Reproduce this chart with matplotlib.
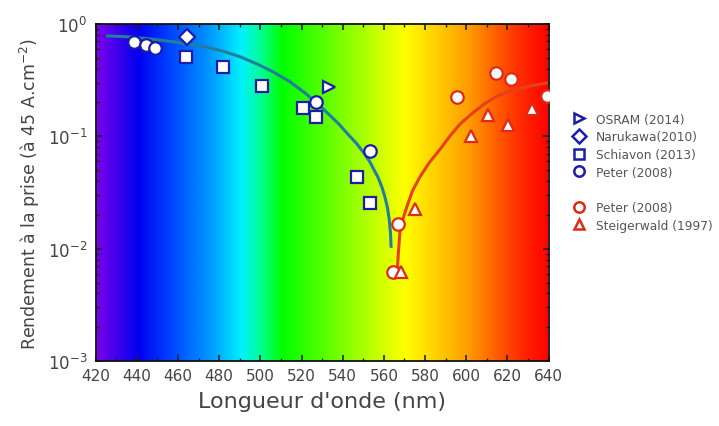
import numpy as np
import matplotlib
matplotlib.use("Agg")
import matplotlib.pyplot as plt
from matplotlib.colors import LinearSegmentedColormap
from matplotlib.lines import Line2D
from matplotlib.ticker import MultipleLocator, LogLocator, NullFormatter

# --- data ---
osram_x = [533.4]
osram_y = [0.275]

narukawa_x = [464.3]
narukawa_y = [0.77]

schiavon_x = [464.0, 481.8, 501.0, 520.7, 527.0, 547.0, 553.3]
schiavon_y = [0.51, 0.41, 0.28, 0.18, 0.149, 0.043, 0.0255]

peter_blue_x = [438.5, 444.3, 448.7, 527.0, 553.3]
peter_blue_y = [0.69, 0.65, 0.61, 0.20, 0.074]

peter_red_x = [564.5, 567.0, 595.7, 614.6, 621.5, 639.0]
peter_red_y = [0.0062, 0.0166, 0.224, 0.366, 0.324, 0.228]

steig_x = [568.4, 575.2, 602.5, 610.8, 620.5, 631.7]
steig_y = [0.0062, 0.0225, 0.10, 0.155, 0.126, 0.175]

# fit curves
fit_blue_x = [425.8, 436.0, 446.0, 458.0, 470.6, 482.0, 490.0, 498.3, 506.0, 514.4,
              522.0, 530.5, 538.0, 543.0, 547.0, 550.0, 553.0, 555.0, 557.0, 559.0,
              560.5, 561.7, 562.6, 563.2, 563.5]
fit_blue_y = [0.78, 0.765, 0.735, 0.69, 0.64, 0.57, 0.51, 0.44, 0.375, 0.305,
              0.24, 0.175, 0.129, 0.102, 0.085, 0.072, 0.060, 0.051, 0.0437, 0.0355,
              0.0288, 0.0234, 0.0182, 0.0138, 0.0105]

fit_red_x = [566.5, 567.0, 567.9, 569.5, 571.3, 574.0, 577.7, 582.0, 587.4, 592.0,
             597.1, 603.0, 609.0, 615.1, 622.0, 631.2, 640.0]
fit_red_y = [0.0063, 0.009, 0.015, 0.019, 0.024, 0.033, 0.044, 0.058, 0.077, 0.10,
             0.129, 0.16, 0.195, 0.228, 0.255, 0.28, 0.30]

# spectrum background
spec_wl = [420, 440, 455, 475, 490, 500, 510, 540, 570, 600, 625, 640]
spec_col = ['#7a00e8', '#0000f0', '#0040ff', '#0098ff', '#00f0ff', '#00ff90',
            '#00ff00', '#80ff00', '#ffff00', '#ffa000', '#ff3000', '#ff0000']

BLUE = '#1c1caa'
RED = '#e02a18'


def main():
    fig = plt.figure(figsize=(7.19, 4.27), dpi=100)
    ax = fig.add_axes([0.133, 0.152, 0.63, 0.79])

    pos = [(w - spec_wl[0]) / (spec_wl[-1] - spec_wl[0]) for w in spec_wl]
    cmap = LinearSegmentedColormap.from_list('spec', list(zip(pos, spec_col)))
    grad = np.linspace(0, 1, 512)[None, :]
    ax.imshow(grad, cmap=cmap, aspect='auto', extent=(420, 640, 0, 1),
              transform=ax.get_xaxis_transform(), zorder=0, interpolation='bilinear')

    ax.plot(fit_blue_x, fit_blue_y, color='#1f7f9e', lw=2.2, zorder=2,
            solid_joinstyle='round')
    ax.plot(fit_red_x, fit_red_y, color='#e8401a', lw=2.2, zorder=2,
            solid_joinstyle='round')

    mk = dict(markerfacecolor='white', markeredgewidth=1.6, linestyle='none', zorder=3)
    ax.plot(osram_x, osram_y, marker='>', ms=9, markeredgecolor=BLUE, **mk)
    ax.plot(narukawa_x, narukawa_y, marker='D', ms=8, markeredgecolor=BLUE, **mk)
    ax.plot(schiavon_x, schiavon_y, marker='s', ms=8, markeredgecolor=BLUE, **mk)
    ax.plot(peter_blue_x, peter_blue_y, marker='o', ms=9, markeredgecolor=BLUE, **mk)
    ax.plot(peter_red_x, peter_red_y, marker='o', ms=9, markeredgecolor=RED, **mk)
    ax.plot(steig_x, steig_y, marker='^', ms=9, markeredgecolor=RED, **mk)

    ax.set_yscale('log')
    ax.set_xlim(420, 640)
    ax.set_ylim(1e-3, 1)
    ax.xaxis.set_major_locator(MultipleLocator(20))
    ax.xaxis.set_minor_locator(MultipleLocator(10))
    ax.yaxis.set_major_locator(LogLocator(base=10))
    ax.yaxis.set_minor_locator(LogLocator(base=10, subs=np.arange(2, 10)))
    ax.yaxis.set_minor_formatter(NullFormatter())
    ax.tick_params(which='both', direction='in', top=True, right=True, colors='#222222')
    ax.tick_params(which='major', length=4, width=1.2)
    ax.tick_params(which='minor', length=2.5, width=1)
    ax.tick_params(axis='x', labelsize=11, labelcolor='#444444', pad=5)
    ax.tick_params(axis='y', labelsize=12, labelcolor='#444444', pad=6)
    for s in ax.spines.values():
        s.set_linewidth(1.3)
        s.set_color('#111111')

    ax.set_xlabel("Longueur d'onde (nm)", fontsize=16, color='#444444', labelpad=6)
    ax.set_ylabel("Rendement à la prise (à 45 A.cm$^{-2}$)", fontsize=12.5,
                  color='#444444', labelpad=4)

    lk = dict(markerfacecolor='white', markeredgewidth=1.8, linestyle='none', markersize=7.5)
    handles = [
        Line2D([], [], marker='>', markeredgecolor=BLUE, **lk),
        Line2D([], [], marker='D', markeredgecolor=BLUE, **lk),
        Line2D([], [], marker='s', markeredgecolor=BLUE, **lk),
        Line2D([], [], marker='o', markeredgecolor=BLUE, **lk),
        Line2D([], [], linestyle='none'),
        Line2D([], [], marker='o', markeredgecolor=RED, **lk),
        Line2D([], [], marker='^', markeredgecolor=RED, **lk),
    ]
    labels = ['OSRAM (2014)', 'Narukawa(2010)', 'Schiavon (2013)', 'Peter (2008)', '',
              'Peter (2008)', 'Steigerwald (1997)']
    leg = fig.legend(handles, labels, loc='upper left', bbox_to_anchor=(0.79, 0.745),
                     frameon=False, fontsize=8.8, handlelength=1.0, handletextpad=0.9,
                     labelspacing=0.38, borderaxespad=0)
    for t in leg.get_texts():
        t.set_color('#555555')

    fig.savefig("out.png", dpi=100)


if __name__ == "__main__":
    main()
